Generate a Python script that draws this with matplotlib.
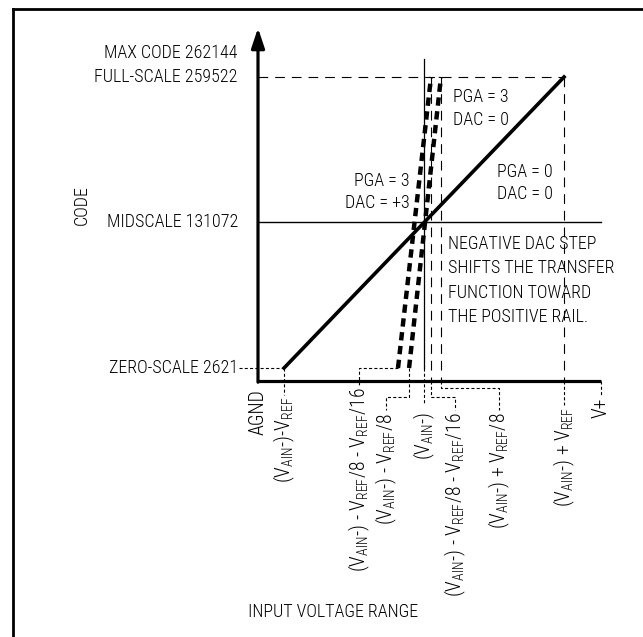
import numpy as np
import matplotlib
matplotlib.use("Agg")
import matplotlib.pyplot as plt
from matplotlib import font_manager as fm

# police etroite si possible, sinon Liberation Sans un peu plus petite
names = sorted({f.name for f in fm.fontManager.ttflist})
prefs = ["Liberation Sans Narrow", "Roboto Condensed", "Noto Sans Condensed",
         "Open Sans Condensed", "Noto Sans SemiCondensed", "DejaVu Sans Condensed"]
narrow = [n for n in prefs if n in names]
narrow += [n for n in names if "Narrow" in n or "Condensed" in n]
if narrow:
    FONT, FS, FS_V = narrow[0], 13.0, 14.2
else:
    FONT = next(n for n in ["Liberation Sans", "DejaVu Sans"] if n in names)
    FS, FS_V = 10.8, 11.5
plt.rcParams["font.family"] = [FONT, "DejaVu Sans"]
plt.rcParams["font.weight"] = "light"
plt.rcParams["mathtext.fontset"] = "custom"
plt.rcParams["mathtext.rm"] = FONT + ":light"
plt.rcParams["mathtext.it"] = FONT + ":light"
plt.rcParams["mathtext.bf"] = FONT
plt.rcParams["lines.scale_dashes"] = False

# Codes (ADC 18 bits)
max_code = 262144
full_scale = 259522
midscale = 131072
zero_scale = 2621
code_values = [full_scale, midscale, zero_scale]
code_labels = ["FULL-SCALE 259522", "MIDSCALE 131072", "ZERO-SCALE 2621"]

# Tension d'entree, en unites de VREF autour de V_AIN- (schema)
v_agnd = -1.186
v_ain = 0.0
v_plus = 1.264
# fonctions de transfert : tension au code zero et au code pleine echelle
pga0_dac0 = [-1.0, 1.0]
pga3_dac0 = [-0.107, 0.121]
pga3_dac3 = [-0.186, 0.05]

lbl_agnd = "AGND"
lbl_vplus = "V+"
lbl_minus_ref = r"(V$_{\rm AIN}$-)-V$_{\rm REF}$"
lbl_m8m16 = r"(V$_{\rm AIN}$-) - V$_{\rm REF}$/8 - V$_{\rm REF}$/16"
lbl_m8 = r"(V$_{\rm AIN}$-) - V$_{\rm REF}$/8"
lbl_ain = r"(V$_{\rm AIN}$-)"
lbl_p8 = r"(V$_{\rm AIN}$-) + V$_{\rm REF}$/8"
lbl_plus_ref = r"(V$_{\rm AIN}$-) + V$_{\rm REF}$"

# Echelles du schema (pixels)
PX_V = 1.0 / 140.0
PX_C = (full_scale - zero_scale) / 291.0
AXIS_Y = zero_scale - 13 * PX_C


def dx(px):
    return px * PX_V


def below(px):
    return AXIS_Y - px * PX_C


LONG = (7, 5)
DOT = (2.2, 1.6)
THICK = (6, 4)

fig = plt.figure(figsize=(6.43, 6.37), dpi=100)
ax = fig.add_axes([0, 0, 1, 1])
ax.set_xlim(v_agnd - dx(258), v_agnd + dx(385))
ax.set_ylim(below(256), AXIS_Y + 381 * PX_C)
ax.axis("off")

# cadre (haut et gauche)
ax.plot([13 / 643, 1.01], [1 - 8.5 / 637] * 2, color="black", lw=2.0,
        transform=ax.transAxes, clip_on=False)
ax.plot([13 / 643] * 2, [-0.01, 1 - 8.5 / 637], color="black", lw=2.0,
        transform=ax.transAxes, clip_on=False)

# axes
ax.plot([v_agnd - dx(1), v_plus], [AXIS_Y, AXIS_Y], color="black", lw=2.3,
        solid_capstyle="butt")
ax.annotate("", xy=(v_agnd, AXIS_Y + 353 * PX_C), xytext=(v_agnd, AXIS_Y - 1.2 * PX_C),
            arrowprops=dict(arrowstyle="-|>,head_length=0.6,head_width=0.2",
                            color="black", lw=2.3, mutation_scale=20,
                            shrinkA=0, shrinkB=0))

# lignes de reference
ax.plot([v_agnd, v_plus], [midscale, midscale], color="black", lw=1.0)
ax.plot([v_agnd, pga0_dac0[1]], [full_scale, full_scale], color="black", lw=0.8,
        dashes=LONG)
for v in [pga3_dac3[1], pga3_dac0[1], pga0_dac0[1]]:
    ax.plot([v, v], [full_scale, AXIS_Y], color="black", lw=0.8, dashes=LONG)
ax.plot([v_ain, v_ain], [AXIS_Y + 322 * PX_C, zero_scale], color="black", lw=0.9)

# fonctions de transfert
ax.plot(pga0_dac0, [zero_scale, full_scale], color="black", lw=2.6)
ax.plot(pga3_dac0, [zero_scale, full_scale], color="black", lw=3.2, dashes=THICK)
ax.plot(pga3_dac3, [zero_scale, full_scale], color="black", lw=3.2, dashes=THICK)

# etiquettes de l'axe des codes
ax.text(v_agnd - dx(20), full_scale + 24 * PX_C, "MAX CODE 262144", ha="right",
        va="center", fontsize=FS)
for c, s in zip(code_values, code_labels):
    ax.text(v_agnd - dx(20), c, s, ha="right", va="center", fontsize=FS)
ax.plot([v_agnd - dx(19), pga0_dac0[0]], [zero_scale, zero_scale], color="black",
        lw=0.8, dashes=DOT)
ax.text(v_agnd - dx(176), midscale + 17 * PX_C, "CODE", rotation=90, ha="center",
        va="center", fontsize=FS)

# etiquettes de l'axe des tensions : (texte, point, x etiquette, coude, fin, haut)
x_labels = [
    (lbl_minus_ref, (pga0_dac0[0], zero_scale), pga0_dac0[0], None, 14, 16),
    (lbl_m8m16, (pga3_dac3[0], zero_scale), v_ain - dx(65), -13, 4, 6),
    (lbl_m8, (pga3_dac0[0], zero_scale), v_ain - dx(38), 16, 29, 32),
    (lbl_ain, (v_ain, zero_scale), v_ain, None, 22, 31),
    (lbl_m8m16, (pga3_dac3[1], AXIS_Y), v_ain + dx(31), 16, 29, 31),
    (lbl_p8, (pga3_dac0[1], AXIS_Y), v_ain + dx(75), 7, 29, 31),
    (lbl_plus_ref, (pga0_dac0[1], AXIS_Y), pga0_dac0[1], None, 24, 26),
    (lbl_vplus, (v_plus, AXIS_Y), v_plus, None, 15, 17),
]
for s, (xa, ya), xl, knee, end, top in x_labels:
    if knee is None:
        xs, ys = [xa, xa], [ya, below(end)]
    else:
        xs = [xa, xa, xl, xl]
        ys = [ya, below(knee), below(knee), below(end)]
    ax.plot(xs, ys, color="black", lw=0.8, dashes=DOT)
    ax.text(xl, below(top), s, rotation=90, ha="center", va="top", fontsize=FS_V)
ax.text(v_agnd, below(8), lbl_agnd, rotation=90, ha="center", va="top", fontsize=FS_V)

ax.text(v_agnd + dx(75), below(231), "INPUT VOLTAGE RANGE", ha="center", va="center",
        fontsize=FS)

# annotations
ax.text(v_ain + dx(29), full_scale - 31.5 * PX_C, "PGA = 3\nDAC = 0", ha="left",
        va="center", fontsize=FS, linespacing=1.35)
ax.text(v_ain + dx(73), midscale + 39.5 * PX_C, "PGA = 0\nDAC = 0", ha="left",
        va="center", fontsize=FS, linespacing=1.35)
ax.text(v_ain - dx(14), midscale + 30.5 * PX_C, "PGA = 3\nDAC = +3", ha="right",
        va="center", fontsize=FS, linespacing=1.35)
ax.text(v_ain + dx(24), midscale - 58 * PX_C,
        "NEGATIVE DAC STEP\nSHIFTS THE TRANSFER\nFUNCTION TOWARD\nTHE POSITIVE RAIL.",
        ha="left", va="center", fontsize=FS, linespacing=1.45)

fig.savefig("out.png", dpi=100)
